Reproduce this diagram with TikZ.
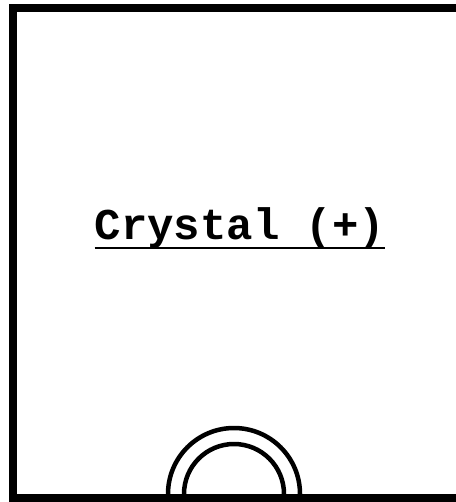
\documentclass[tikz,border=0pt]{standalone}
\usepackage{fontspec}
\newfontfamily\crystalfont{Liberation Mono}
\usepackage{tikz}

\begin{document}
\begin{tikzpicture}[
    x=1pt, y=1pt,
    frame/.style={draw=black, line width=8pt},
    arch/.style={draw=black, line width=4.5pt},
    title/.style={inner sep=0pt, anchor=base, font=\crystalfont\bfseries\fontsize{44}{44}\selectfont},
    uline/.style={draw=black, line width=2pt}
]
\useasboundingbox (0,0) rectangle (455,-502);
% outer frame, runs off the right edge
\draw[frame] (470,-8) -- (13,-8) -- (13,-498) -- (470,-498);
\node[title] (label) at (240,-240) {Crystal (+)};
\draw[uline] ([yshift=-8pt]label.base west) -- ([yshift=-8pt]label.base east);
% double arch on the bottom edge
\coordinate (archc) at (234,-494);
\draw[arch] ([xshift=-66pt]archc) arc[start angle=180, end angle=0, radius=66pt];
\draw[arch] ([xshift=-50pt]archc) arc[start angle=180, end angle=0, radius=50pt];
\end{tikzpicture}
\end{document}
